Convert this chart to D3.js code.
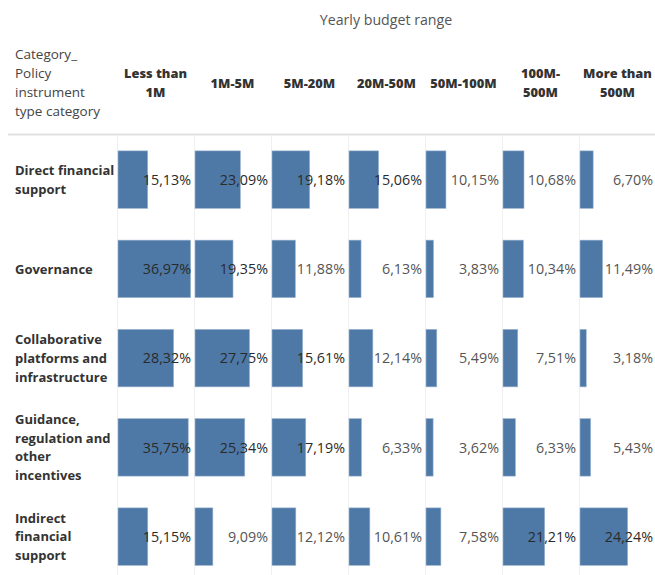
<!DOCTYPE html>
<html>
<head>
<meta charset="utf-8">
<script src="https://cdn.jsdelivr.net/npm/d3@7"></script>
<style>
  html, body { margin: 0; padding: 0; background: #fff; }
  svg { display: block; font-family: "Open Sans", Lato, sans-serif; }
</style>
</head>
<body>
<svg id="chart" width="655" height="575"></svg>
<script>
// Budget bands shown as columns
const budgetRanges = ["Less than 1M", "1M-5M", "5M-20M", "20M-50M", "50M-100M", "100M-500M", "More than 500M"];
const budgetHeaderLines = [["Less than", "1M"], ["1M-5M"], ["5M-20M"], ["20M-50M"], ["50M-100M"], ["100M-", "500M"], ["More than", "500M"]];

// Policy instrument categories shown as rows
const categories = [
  "Direct financial support",
  "Governance",
  "Collaborative platforms and infrastructure",
  "Guidance, regulation and other incentives",
  "Indirect financial support"
];
const categoryLines = [
  ["Direct financial", "support"],
  ["Governance"],
  ["Collaborative", "platforms and", "infrastructure"],
  ["Guidance,", "regulation and", "other", "incentives"],
  ["Indirect", "financial", "support"]
];

// Share (%) of each category within each budget range
const directFinancial = [15.13, 23.09, 19.18, 15.06, 10.15, 10.68, 6.70];
const governance      = [36.97, 19.35, 11.88, 6.13, 3.83, 10.34, 11.49];
const collaborative   = [28.32, 27.75, 15.61, 12.14, 5.49, 7.51, 3.18];
const guidance        = [35.75, 25.34, 17.19, 6.33, 3.62, 6.33, 5.43];
const indirectFinancial = [15.15, 9.09, 12.12, 10.61, 7.58, 21.21, 24.24];
const seriesByCategory = [directFinancial, governance, collaborative, guidance, indirectFinancial];

const cornerLines = ["Category_", "Policy", "instrument", "type category"];
const columnTitle = "Yearly budget range";

const svg = d3.select("#chart");
const W = 655;

const gridTop = 135;
const col = d3.scaleBand().domain(budgetRanges).range([117, 656]).padding(0);
const row = d3.scaleBand().domain(categories).range([gridTop, gridTop + 5 * 89.25])
  .paddingInner(0.356).paddingOuter(0.178);
const len = d3.scaleLinear().domain([0, 39.2]).range([0, col.bandwidth()]);

const locale = d3.formatLocale({ decimal: ",", thousands: ".", grouping: [3], currency: ["", ""] });
const fmt = v => locale.format(".2f")(v) + "%";

const cells = [];
categories.forEach((c, i) => budgetRanges.forEach((b, j) => cells.push({ cat: c, budget: b, value: seriesByCategory[i][j] })));

// column dividers
svg.append("g").selectAll("line").data(budgetRanges).join("line")
  .attr("x1", d => Math.round(col(d)) + 0.5).attr("x2", d => Math.round(col(d)) + 0.5)
  .attr("y1", gridTop).attr("y2", 575)
  .attr("stroke", "#f0f0f0").attr("stroke-width", 1);

// header rule
svg.append("line").attr("x1", 8).attr("x2", W).attr("y1", gridTop - 0.5).attr("y2", gridTop - 0.5)
  .attr("stroke", "#e1e1e1").attr("stroke-width", 2);

// bars
svg.append("g").selectAll("rect").data(cells).join("rect")
  .attr("x", d => col(d.budget) + 1)
  .attr("y", d => row(d.cat))
  .attr("width", d => len(d.value))
  .attr("height", row.bandwidth())
  .attr("fill", "#4e79a7")
  .attr("stroke", "#9bb5d0").attr("stroke-width", 0.6);

// value labels
svg.append("g").selectAll("text").data(cells).join("text")
  .attr("x", d => col(d.budget) + col.bandwidth() - 3)
  .attr("y", d => row(d.cat) + row.bandwidth() / 2)
  .attr("dy", "0.36em")
  .attr("text-anchor", "end")
  .attr("font-size", 14.3)
  .attr("fill", d => len(d.value) > col.bandwidth() - 52 ? "#2a2a2a" : "#555")
  .text(d => fmt(d.value));

// row headers
const lineH = 18.8;
const rowG = svg.append("g").selectAll("text").data(categories).join("text")
  .attr("x", 15)
  .attr("y", (d, i) => row(d) + row.bandwidth() / 2 - (categoryLines[i].length - 1) * lineH / 2)
  .attr("font-size", 13).attr("font-weight", 700).attr("fill", "#333");
rowG.each(function (d, i) {
  d3.select(this).selectAll("tspan").data(categoryLines[i]).join("tspan")
    .attr("x", 15).attr("dy", (t, k) => k === 0 ? "0.36em" : lineH).text(t => t);
});

// column headers
const headCY = 83;
const colG = svg.append("g").selectAll("text").data(budgetRanges).join("text")
  .attr("text-anchor", "middle")
  .attr("y", (d, j) => headCY - (budgetHeaderLines[j].length - 1) * 19 / 2)
  .attr("font-size", 12.8).attr("font-weight", 800).attr("fill", "#333");
colG.each(function (d, j) {
  const cx = col(d) + col.bandwidth() / 2;
  d3.select(this).selectAll("tspan").data(budgetHeaderLines[j]).join("tspan")
    .attr("x", cx).attr("dy", (t, k) => k === 0 ? "0.36em" : 19).text(t => t);
});

// corner header
svg.append("text").attr("y", headCY - 1.5 * 19).attr("font-size", 13.5).attr("fill", "#444")
  .selectAll("tspan").data(cornerLines).join("tspan")
  .attr("x", 15).attr("dy", (t, k) => k === 0 ? "0.36em" : 19).text(t => t);

// column group title
svg.append("text").attr("x", 386).attr("y", 20).attr("dy", "0.36em")
  .attr("text-anchor", "middle").attr("font-size", 14.2).attr("fill", "#555")
  .text(columnTitle);
</script>
</body>
</html>
